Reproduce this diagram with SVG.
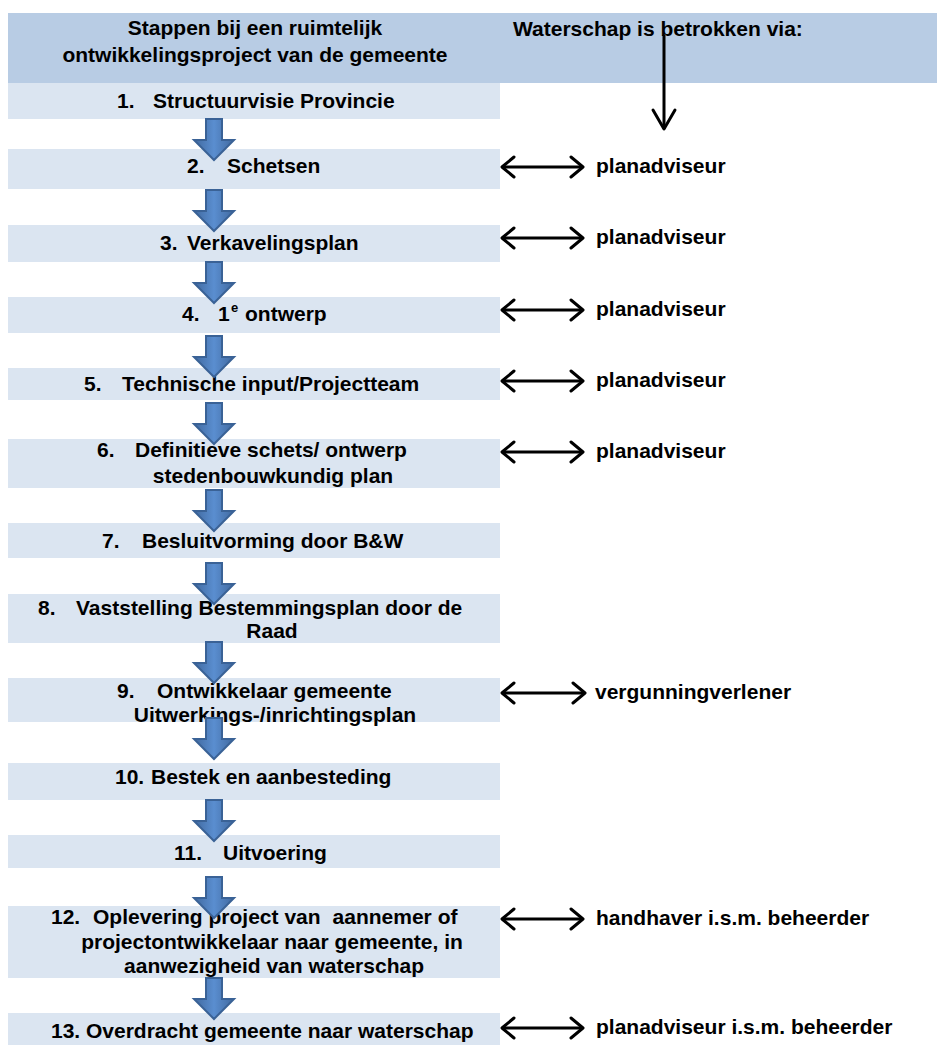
<svg xmlns="http://www.w3.org/2000/svg" width="937" height="1045" viewBox="0 0 937 1045">
<style>
.t{font-family:"Liberation Sans",Arial,sans-serif;font-weight:bold;font-size:21px;fill:#000}
.sup{font-size:13px}
.box{fill:#dbe5f1}
.hdr{fill:#b8cce4}
.dbl{stroke:#000;stroke-width:3;fill:none;marker-start:url(#chev);marker-end:url(#chev)}
.blk{fill:url(#bg);stroke:#3a6296;stroke-width:2}
</style>
<defs>
<linearGradient id="bg" x1="0" y1="0" x2="1" y2="0">
<stop offset="0" stop-color="#41699f"/>
<stop offset="0.5" stop-color="#5a8ed0"/>
<stop offset="1" stop-color="#41699f"/>
</linearGradient>
<marker id="chev" markerUnits="userSpaceOnUse" viewBox="0 0 16 24" markerWidth="16" markerHeight="24" refX="14" refY="12" orient="auto-start-reverse">
<path d="M2,2 L14,12 L2,22" fill="none" stroke="#000" stroke-width="3" stroke-linecap="round" stroke-linejoin="round"/>
</marker>
<path id="ba" d="M206,0 H222 V21 H234 L214,41 L194,21 H206 Z"/>
</defs>

<g id="header">
<rect class="hdr" x="8" y="13" width="929" height="70"/>
<text class="t" x="255" y="35" text-anchor="middle">Stappen bij een ruimtelijk</text>
<text class="t" x="255" y="62" text-anchor="middle">ontwikkelingsproject van de gemeente</text>
<text class="t" x="513" y="36">Waterschap is betrokken via:</text>
</g>

<g id="step1"><rect class="box" x="8" y="83" width="492" height="36"/>
<text class="t" y="108"><tspan x="117">1.</tspan><tspan x="153">Structuurvisie Provincie</tspan></text></g>
<g id="step2"><rect class="box" x="8" y="149" width="492" height="40"/>
<text class="t" y="173"><tspan x="187">2.</tspan><tspan x="227">Schetsen</tspan></text></g>
<g id="step3"><rect class="box" x="8" y="225" width="492" height="37"/>
<text class="t" y="250"><tspan x="160">3.</tspan><tspan x="187">Verkavelingsplan</tspan></text></g>
<g id="step4"><rect class="box" x="8" y="297" width="492" height="36"/>
<text class="t" y="321"><tspan x="182">4.</tspan><tspan x="218">1</tspan><tspan class="sup" x="231" dy="-9">e</tspan><tspan x="245" dy="9">ontwerp</tspan></text></g>
<g id="step5"><rect class="box" x="8" y="368" width="492" height="32"/>
<text class="t" y="391"><tspan x="84">5.</tspan><tspan x="122">Technische input/Projectteam</tspan></text></g>
<g id="step6"><rect class="box" x="8" y="439" width="492" height="49"/>
<text class="t" y="457"><tspan x="97">6.</tspan><tspan x="135">Definitieve schets/ ontwerp</tspan></text>
<text class="t" x="273" y="483" text-anchor="middle">stedenbouwkundig plan</text></g>
<g id="step7"><rect class="box" x="8" y="523" width="492" height="35"/>
<text class="t" y="548"><tspan x="102">7.</tspan><tspan x="142">Besluitvorming door B&amp;W</tspan></text></g>
<g id="step8"><rect class="box" x="8" y="594" width="492" height="49"/>
<text class="t" y="615"><tspan x="38">8.</tspan><tspan x="76">Vaststelling Bestemmingsplan door de</tspan></text>
<text class="t" x="272" y="638" text-anchor="middle">Raad</text></g>
<g id="step9"><rect class="box" x="8" y="678" width="492" height="44"/>
<text class="t" y="698"><tspan x="117">9.</tspan><tspan x="157">Ontwikkelaar gemeente</tspan></text>
<text class="t" x="275" y="722" text-anchor="middle">Uitwerkings-/inrichtingsplan</text></g>
<g id="step10"><rect class="box" x="8" y="763" width="492" height="37"/>
<text class="t" y="784"><tspan x="115">10.</tspan><tspan x="151">Bestek en aanbesteding</tspan></text></g>
<g id="step11"><rect class="box" x="8" y="835" width="492" height="33"/>
<text class="t" y="860"><tspan x="174">11.</tspan><tspan x="223">Uitvoering</tspan></text></g>
<g id="step12"><rect class="box" x="8" y="906" width="492" height="72"/>
<text class="t" y="924"><tspan x="51">12.</tspan><tspan x="93">Oplevering project van</tspan><tspan dx="12">aannemer of</tspan></text>
<text class="t" x="272" y="949" text-anchor="middle">projectontwikkelaar naar gemeente, in</text>
<text class="t" x="274" y="973" text-anchor="middle">aanwezigheid van waterschap</text></g>
<g id="step13"><rect class="box" x="8" y="1013" width="492" height="32"/>
<text class="t" y="1038"><tspan x="51">13.</tspan><tspan x="86">Overdracht gemeente naar waterschap</tspan></text></g>

<g id="labels">
<text class="t" x="596" y="173">planadviseur</text>
<text class="t" x="596" y="244">planadviseur</text>
<text class="t" x="596" y="316">planadviseur</text>
<text class="t" x="596" y="387">planadviseur</text>
<text class="t" x="596" y="458">planadviseur</text>
<text class="t" x="595" y="699">vergunningverlener</text>
<text class="t" x="596" y="925">handhaver i.s.m. beheerder</text>
<text class="t" x="596" y="1034">planadviseur i.s.m. beheerder</text>
</g>

<g id="connectors">
<use href="#ba" class="blk" y="119"/>
<use href="#ba" class="blk" y="190"/>
<use href="#ba" class="blk" y="262"/>
<use href="#ba" class="blk" y="336"/>
<use href="#ba" class="blk" y="403"/>
<use href="#ba" class="blk" y="490"/>
<use href="#ba" class="blk" y="563"/>
<use href="#ba" class="blk" y="642"/>
<use href="#ba" class="blk" y="718"/>
<use href="#ba" class="blk" y="800"/>
<use href="#ba" class="blk" y="877"/>
<use href="#ba" class="blk" y="978"/>
<path d="M664,35 V129" stroke="#000" stroke-width="3" fill="none"/>
<path d="M653,110 L664,129 L675,110" stroke="#000" stroke-width="3" fill="none" stroke-linecap="round" stroke-linejoin="round"/>
<line class="dbl" x1="502" y1="167" x2="583" y2="167"/>
<line class="dbl" x1="502" y1="238" x2="583" y2="238"/>
<line class="dbl" x1="502" y1="310" x2="583" y2="310"/>
<line class="dbl" x1="502" y1="381" x2="583" y2="381"/>
<line class="dbl" x1="502" y1="452" x2="583" y2="452"/>
<line class="dbl" x1="502" y1="693" x2="585" y2="693"/>
<line class="dbl" x1="502" y1="919" x2="583" y2="919"/>
<line class="dbl" x1="502" y1="1028" x2="583" y2="1028"/>
</g>
</svg>
